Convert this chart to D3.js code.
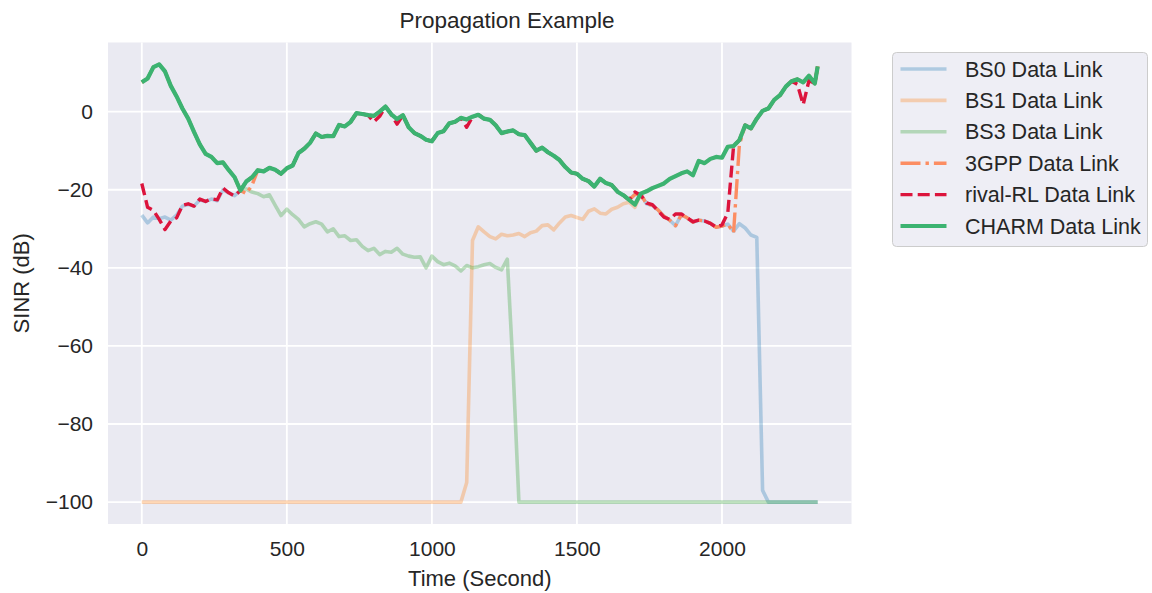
<!DOCTYPE html>
<html>
<head>
<meta charset="utf-8">
<script src="https://cdn.jsdelivr.net/npm/d3@7"></script>
<style>
  body { margin: 0; background: #ffffff; }
  svg { display: block; font-family: "Liberation Sans", Arial, sans-serif; }
</style>
</head>
<body>
<svg id="chart" width="1152" height="593"></svg>
<script>
// Sampling grid (seconds): every 20 s, last sample at 2330 s
const time = d3.range(0, 2321, 20).concat([2330]);

const xTicks = [0, 500, 1000, 1500, 2000];
const yTicks = [-100, -80, -60, -40, -20, 0];

// SINR (dB) per link, one value per sample in `time`
const bs0 = [
  -26.5, -28.5, -27.0, -27.4, -27.0, -27.8, -26.5, -24.2, -23.8, -24.2,
  -22.6, -23.0, -22.4, -22.8, -20.0, -20.8, -21.5, -20.2, -17.9, -16.8,
  -15.0, -15.3, -14.4, -14.9, -15.9, -14.5, -13.8, -10.6, -9.5, -8.0,
  -5.6, -6.5, -6.2, -6.3, -3.4, -3.8, -2.6, -0.4, -0.6, -0.9,
  -1.1, 0.0, 1.3, -0.7, -1.9, -0.9, -4.0, -5.5, -6.2, -7.2,
  -7.6, -5.5, -5.0, -3.0, -2.6, -1.6, -2.0, -1.3, -0.8, -1.8,
  -2.1, -3.5, -5.5, -5.1, -4.8, -5.8, -6.0, -8.0, -10.0, -9.2,
  -10.4, -11.3, -12.4, -14.2, -15.6, -15.9, -17.2, -17.8, -19.2, -17.2,
  -18.3, -18.8, -20.5, -21.4, -22.6, -21.2, -21.2, -23.6, -24.0, -25.2,
  -26.8, -27.8, -29.2, -26.4, -27.2, -28.3, -27.8, -28.0, -28.6, -29.6,
  -29.3, -28.8, -30.6, -28.7, -29.8, -31.6, -32.2, -97.0, -100, -100,
  -100, -100, -100, -100, -100, -100, -100, -100
];

const bs1 = [
  -100, -100, -100, -100, -100, -100, -100, -100, -100, -100,
  -100, -100, -100, -100, -100, -100, -100, -100, -100, -100,
  -100, -100, -100, -100, -100, -100, -100, -100, -100, -100,
  -100, -100, -100, -100, -100, -100, -100, -100, -100, -100,
  -100, -100, -100, -100, -100, -100, -100, -100, -100, -100,
  -100, -100, -100, -100, -100, -100, -95.0, -33.0, -29.5, -30.8,
  -32.0, -32.6, -31.4, -31.8, -31.6, -31.2, -32.0, -31.0, -30.6, -29.2,
  -29.0, -30.3, -28.5, -27.0, -26.6, -27.1, -27.6, -25.5, -24.9, -26.0,
  -26.2, -25.0, -24.5, -23.6, -23.2, -24.5, -21.0, -20.4, -19.6, -19.0,
  -18.4, -17.2, -16.5, -15.8, -15.3, -16.3, -12.6, -13.2, -12.1, -11.6,
  -11.8, -9.0, -8.8, -7.3, -3.5, -4.3, -1.8, 0.2, 0.8, 3.0,
  4.2, 6.4, 7.8, 8.3, 7.5, 9.2, 7.2, 11.6
];

const bs3 = [
  7.5, 8.5, 11.4, 12.1, 10.3, 6.6, 3.9, 0.8, -1.8, -5.2,
  -8.4, -10.8, -11.6, -13.2, -13.0, -15.0, -16.8, -20.2, -19.8, -20.6,
  -21.0, -21.8, -21.3, -24.0, -26.6, -25.0, -26.4, -27.6, -29.5, -28.7,
  -28.2, -28.8, -30.8, -30.0, -32.0, -31.8, -33.0, -32.8, -34.5, -35.6,
  -35.0, -36.6, -35.8, -36.0, -35.0, -36.5, -37.0, -37.3, -37.2, -40.0,
  -37.0, -38.4, -39.2, -38.8, -39.5, -40.8, -39.4, -40.0, -39.7, -39.2,
  -38.9, -39.9, -40.5, -37.8, -66.0, -100, -100, -100, -100, -100,
  -100, -100, -100, -100, -100, -100, -100, -100, -100, -100,
  -100, -100, -100, -100, -100, -100, -100, -100, -100, -100,
  -100, -100, -100, -100, -100, -100, -100, -100, -100, -100,
  -100, -100, -100, -100, -100, -100, -100, -100, -100, -100,
  -100, -100, -100, -100, -100, -100, -100, -100
];

const gpp = [
  7.5, 8.5, 11.4, 12.1, 10.3, 6.6, 3.9, 0.8, -1.8, -5.2,
  -8.4, -10.8, -11.6, -13.2, -13.0, -15.0, -16.8, -20.2, -21.0, -18.8,
  -15.0, -15.3, -14.4, -14.9, -15.9, -14.5, -13.8, -10.6, -9.5, -8.0,
  -5.6, -6.5, -6.2, -6.3, -3.4, -3.8, -2.6, -0.4, -0.6, -0.9,
  -1.1, 0.0, 1.3, -0.7, -1.9, -0.9, -4.0, -5.5, -6.2, -7.2,
  -7.6, -5.5, -5.0, -3.0, -2.6, -1.6, -2.0, -1.3, -0.8, -1.8,
  -2.1, -3.5, -5.5, -5.1, -4.8, -5.8, -6.0, -8.0, -10.0, -9.2,
  -10.4, -11.3, -12.4, -14.2, -15.6, -15.9, -17.2, -17.8, -19.2, -17.2,
  -18.3, -18.8, -20.5, -21.4, -22.6, -21.2, -21.2, -23.6, -24.0, -25.2,
  -26.8, -27.8, -29.2, -26.4, -27.2, -28.3, -27.8, -28.0, -28.6, -29.6,
  -29.3, -28.8, -31.0, -8.5, -3.5, -4.3, -1.8, 0.2, 0.8, 3.0,
  4.2, 6.4, 7.8, 8.3, 7.5, 9.2, 7.2, 11.6
];

const rival = [
  -18.4, -24.5, -25.3, -27.6, -30.2, -28.0, -27.2, -24.0, -23.6, -24.2,
  -22.4, -23.0, -22.3, -22.6, -19.6, -20.8, -21.6, -20.2, -17.9, -16.8,
  -15.0, -15.3, -14.4, -14.9, -15.9, -14.5, -13.8, -10.6, -9.5, -8.0,
  -5.6, -6.5, -6.2, -6.3, -3.4, -3.8, -2.6, -0.4, -0.6, -0.9,
  -2.6, -1.2, 1.3, -0.7, -3.2, -0.9, -4.0, -5.5, -6.2, -7.2,
  -7.6, -5.5, -5.0, -3.0, -2.6, -1.6, -4.0, -1.3, -0.8, -1.8,
  -2.1, -3.5, -5.5, -5.1, -4.8, -5.8, -6.0, -8.0, -10.0, -9.2,
  -10.4, -11.3, -12.4, -14.2, -15.6, -15.9, -17.2, -17.8, -19.2, -17.2,
  -18.3, -18.8, -20.5, -21.4, -22.6, -20.6, -21.4, -23.4, -23.8, -25.4,
  -27.0, -27.6, -26.2, -26.2, -27.2, -28.2, -27.8, -28.0, -28.6, -29.6,
  -29.0, -26.0, -8.8, -7.3, -3.5, -4.3, -1.8, 0.2, 0.8, 3.0,
  4.2, 6.4, 7.8, 7.0, 1.8, 8.0, 7.2, 11.6
];

const charm = [
  7.5, 8.5, 11.4, 12.1, 10.3, 6.6, 3.9, 0.8, -1.8, -5.2,
  -8.4, -10.8, -11.6, -13.2, -13.0, -15.0, -16.8, -20.2, -17.9, -16.8,
  -15.0, -15.3, -14.4, -14.9, -15.9, -14.5, -13.8, -10.6, -9.5, -8.0,
  -5.6, -6.5, -6.2, -6.3, -3.4, -3.8, -2.6, -0.4, -0.6, -0.9,
  -1.1, 0.0, 1.3, -0.7, -1.9, -0.9, -4.0, -5.5, -6.2, -7.2,
  -7.6, -5.5, -5.0, -3.0, -2.6, -1.6, -2.0, -1.3, -0.8, -1.8,
  -2.1, -3.5, -5.5, -5.1, -4.8, -5.8, -6.0, -8.0, -10.0, -9.2,
  -10.4, -11.3, -12.4, -14.2, -15.6, -15.9, -17.2, -17.8, -19.2, -17.2,
  -18.3, -18.8, -20.5, -21.4, -22.6, -23.8, -21.0, -20.4, -19.6, -19.0,
  -18.4, -17.2, -16.5, -15.8, -15.3, -16.3, -12.6, -13.2, -12.1, -11.6,
  -11.8, -9.0, -8.8, -7.3, -3.5, -4.3, -1.8, 0.2, 0.8, 3.0,
  4.2, 6.4, 7.8, 8.3, 7.5, 9.2, 7.2, 11.6
];

const seriesLabels = ["BS0 Data Link", "BS1 Data Link", "BS3 Data Link",
                      "3GPP Data Link", "rival-RL Data Link", "CHARM Data Link"];
const seriesValues = [bs0, bs1, bs3, gpp, rival, charm];

// Line styling, in drawing order
const styles = [
  { color: "#1f77b4", width: 3.6, opacity: 0.3, dash: null },
  { color: "#ff7f0e", width: 3.6, opacity: 0.3, dash: null },
  { color: "#2ca02c", width: 3.6, opacity: 0.3, dash: null },
  { color: "#fc8d62", width: 3.4, opacity: 1, dash: "20,5,3.4,5" },
  { color: "#dc143c", width: 3.4, opacity: 1, dash: "12,5.2" },
  { color: "#3cb371", width: 4.2, opacity: 1, dash: null }
];

const svg = d3.select("#chart");
const plot = { left: 108, right: 851.5, top: 42.5, bottom: 524 };

const allX = d3.extent(time);
const allY = d3.extent(seriesValues.flat());
const padX = (allX[1] - allX[0]) * 0.05;
const padY = (allY[1] - allY[0]) * 0.05;

const x = d3.scaleLinear().domain([allX[0] - padX, allX[1] + padX]).range([plot.left, plot.right]);
const y = d3.scaleLinear().domain([allY[0] - padY, allY[1] + padY]).range([plot.bottom, plot.top]);

// axes background
svg.append("rect")
  .attr("x", plot.left).attr("y", plot.top)
  .attr("width", plot.right - plot.left).attr("height", plot.bottom - plot.top)
  .attr("fill", "#eaeaf2");

// grid lines
const grid = svg.append("g");
grid.selectAll(".gx").data(xTicks).join("line")
  .attr("x1", d => x(d)).attr("x2", d => x(d))
  .attr("y1", plot.top).attr("y2", plot.bottom)
  .attr("stroke", "#ffffff").attr("stroke-width", 1.8);
grid.selectAll(".gy").data(yTicks).join("line")
  .attr("x1", plot.left).attr("x2", plot.right)
  .attr("y1", d => y(d)).attr("y2", d => y(d))
  .attr("stroke", "#ffffff").attr("stroke-width", 1.8);

// axes with tick labels
const fmt = d => d3.format("")(d).replace("-", "\u2212");
const xAxis = svg.append("g")
  .attr("transform", `translate(0,${plot.bottom})`)
  .call(d3.axisBottom(x).tickValues(xTicks).tickSize(0).tickPadding(17).tickFormat(fmt));
const yAxis = svg.append("g")
  .attr("transform", `translate(${plot.left},0)`)
  .call(d3.axisLeft(y).tickValues(yTicks).tickSize(0).tickPadding(15).tickFormat(fmt));
[xAxis, yAxis].forEach(g => {
  g.select(".domain").remove();
  g.selectAll("text")
    .attr("fill", "#262626")
    .attr("font-size", 21)
    .attr("font-family", "'Liberation Sans', Arial, sans-serif");
});

// data lines
const clipId = "plot-clip";
svg.append("clipPath").attr("id", clipId).append("rect")
  .attr("x", plot.left).attr("y", plot.top)
  .attr("width", plot.right - plot.left).attr("height", plot.bottom - plot.top);

const line = d3.line().x(d => x(d[0])).y(d => y(d[1]));
const linesG = svg.append("g").attr("clip-path", `url(#${clipId})`);
seriesValues.forEach((vals, i) => {
  const st = styles[i];
  linesG.append("path")
    .datum(time.map((t, k) => [t, vals[k]]))
    .attr("d", line)
    .attr("fill", "none")
    .attr("stroke", st.color)
    .attr("stroke-width", st.width)
    .attr("stroke-opacity", st.opacity)
    .attr("stroke-linejoin", "round")
    .attr("stroke-linecap", "butt")
    .attr("stroke-dasharray", st.dash);
});

// title and axis labels
svg.append("text")
  .attr("x", 507).attr("y", 28)
  .attr("text-anchor", "middle").attr("font-size", 22.5).attr("fill", "#262626")
  .text("Propagation Example");
svg.append("text")
  .attr("x", (plot.left + plot.right) / 2).attr("y", 586)
  .attr("text-anchor", "middle").attr("font-size", 22).attr("fill", "#262626")
  .text("Time (Second)");
svg.append("text")
  .attr("transform", `translate(29,${(plot.top + plot.bottom) / 2}) rotate(-90)`)
  .attr("text-anchor", "middle").attr("font-size", 22).attr("fill", "#262626")
  .text("SINR (dB)");

// legend
const legend = svg.append("g").attr("transform", "translate(892.5,52.5)");
legend.append("rect")
  .attr("width", 255).attr("height", 194).attr("rx", 4)
  .attr("fill", "#eeeef5").attr("stroke", "#cccccc").attr("stroke-width", 1);
seriesLabels.forEach((name, i) => {
  const st = styles[i];
  const row = legend.append("g").attr("transform", `translate(0,${16.5 + i * 31.4})`);
  row.append("line")
    .attr("x1", 8).attr("x2", 54).attr("y1", 0).attr("y2", 0)
    .attr("stroke", st.color).attr("stroke-width", st.width)
    .attr("stroke-opacity", st.opacity)
    .attr("stroke-dasharray", st.dash);
  row.append("text")
    .attr("x", 72.5).attr("y", 0).attr("dy", "0.35em")
    .attr("font-size", 21.5).attr("fill", "#262626")
    .text(name);
});
</script>
</body>
</html>
